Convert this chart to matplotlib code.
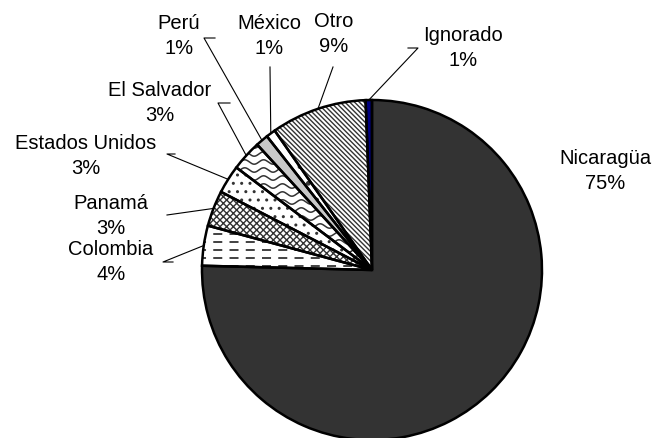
import matplotlib
matplotlib.use("Agg")
import matplotlib.pyplot as plt
import numpy as np

categories = ["Nicaragüa", "Colombia", "Panamá", "Estados Unidos", "El Salvador",
              "Perú", "México", "Otro", "Ignorado"]
values = [75.4, 3.8, 3.4, 2.7, 2.9, 1.2, 0.9, 9.1, 0.6]

facecolors = ["#333333", "white", "white", "white", "white", "#c8c8c8", "white", "white", "#000080"]
hatches = [None, None, "xxxxx", "..", None, None, ".", "\\\\\\\\\\\\\\", None]

# label block centres in pixel coords (x, y from top)
label_pos = [(605, 171), (111, 262), (111, 216), (86, 156), (160, 103),
             (179, 36), (269, 36), (334, 34), (463, 48)]
# leader elbow points (pixel coords) ; None = no leader
elbows = [None, [(163, 262), (173, 262)], [(167, 215)], [(167, 154), (175, 154)],
          [(218, 103), (230, 103)], [(204, 38), (215, 38)], [(270, 67)],
          [(333, 67)], [(418, 48), (408, 48)]]

plt.rcParams["font.family"] = ["Liberation Sans", "DejaVu Sans"]
plt.rcParams["hatch.linewidth"] = 1.0

W, H = 657, 438
fig = plt.figure(figsize=(W / 100, H / 100), dpi=100)
ax = fig.add_axes([0, 0, 1, 1])

cx, cy, r = 372, H - 270, 170

wedges, _ = ax.pie(values, colors=facecolors, startangle=90, counterclock=False,
                   center=(cx, cy), radius=r, frame=True,
                   wedgeprops=dict(linewidth=0, edgecolor="#333333"))
for w, h in zip(wedges, hatches):
    if h:
        w.set_hatch(h)

# dashed-line texture for Colombia
wc = wedges[1]
for yy in np.arange(cy - 4, cy + 60, 8):
    ln, = ax.plot([cx - r - 5, cx + 5], [yy, yy], color="#333333", lw=1.3,
                  linestyle=(0, (5, 4)), zorder=3)
    ln.set_clip_path(wc)

# wavy texture for El Salvador
we = wedges[4]
xw = np.linspace(cx - r - 10, cx + 10, 600)
for off in np.arange(-60, 260, 8):
    ln, = ax.plot(xw, cy + off + 2.2 * np.sin((xw - cx) / 3.0),
                  color="#333333", lw=1.1, zorder=3)
    ln.set_clip_path(we)

ax.pie(values, colors=["none"] * len(values), startangle=90, counterclock=False,
       center=(cx, cy), radius=r, frame=True,
       wedgeprops=dict(linewidth=1.8, edgecolor="black", fill=False, zorder=4))
ax.set_xlim(0, W)
ax.set_ylim(0, H)
ax.set_aspect("equal")
ax.axis("off")

total = sum(values)
for i, (cat, v) in enumerate(zip(categories, values)):
    lx, ly = label_pos[i]
    ax.text(lx, H - ly, f"{cat}\n{round(v / total * 100):.0f}%", ha="center", va="center",
            fontsize=14.5, linespacing=1.45, color="black")
    if elbows[i] is not None:
        w = wedges[i]
        mid = np.deg2rad((w.theta1 + w.theta2) / 2)
        sx, sy = cx + r * np.cos(mid), cy + r * np.sin(mid)
        pts = [(px, H - py) for px, py in elbows[i]]
        xs = [p[0] for p in pts][::-1] + [sx]
        ys = [p[1] for p in pts][::-1] + [sy]
        ax.plot(xs, ys, color="black", lw=0.8)

fig.savefig("out.png", dpi=100)
